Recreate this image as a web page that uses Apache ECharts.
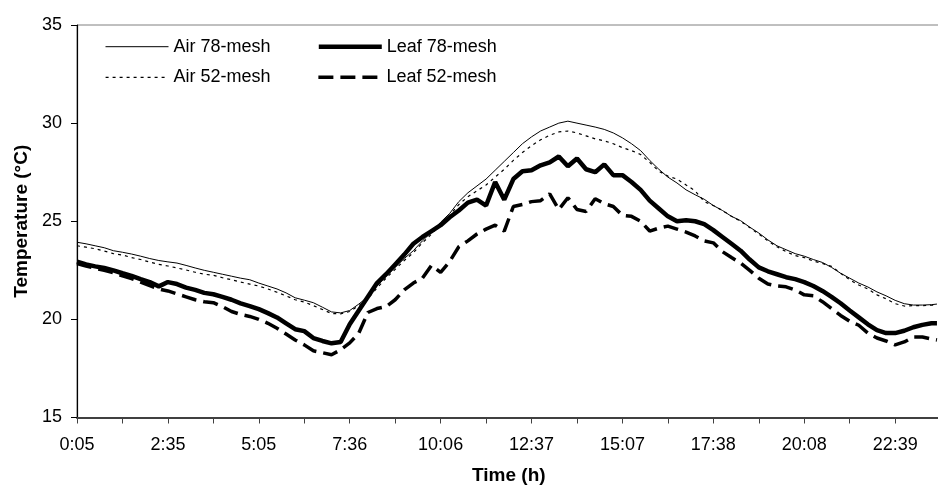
<!DOCTYPE html>
<html>
<head>
<meta charset="utf-8">
<script src="https://cdn.jsdelivr.net/npm/echarts@6/dist/echarts.min.js"></script>
<style>
html,body{margin:0;padding:0;background:#fff;}
#chart{width:938px;height:493px;}
</style>
</head>
<body>
<div id="chart"></div>
<script>
// Sample index along the time axis (one tick label every 150 units)
var timeIdx = [0,15,30,45,60,75,90,105,120,135,
  150,165,180,195,210,225,240,255,270,285,
  300,315,330,345,360,375,390,405,420,435,
  450,465,480,495,510,525,540,555,570,585,
  600,615,630,645,660,675,690,705,720,735,
  750,765,780,795,810,825,840,855,870,885,
  900,915,930,945,960,975,990,1005,1020,1035,
  1050,1065,1080,1095,1110,1125,1140,1155,1170,1185,
  1200,1215,1230,1245,1260,1275,1290,1305,1320,1335,
  1350,1365,1380,1395,1410,1419];

var tickLabels = ['0:05','2:35','5:05','7:36','10:06','12:37','15:07','17:38','20:08','22:39'];

var air78 = [23.93,23.85,23.75,23.65,23.5,23.42,23.33,23.22,23.1,23.0,
  22.93,22.87,22.75,22.62,22.5,22.4,22.3,22.2,22.1,22.02,
  21.85,21.7,21.55,21.35,21.1,20.98,20.85,20.62,20.38,20.33,
  20.45,20.78,21.15,21.7,22.2,22.65,23.1,23.5,24.0,24.45,
  24.95,25.4,26.0,26.45,26.8,27.15,27.6,28.05,28.5,28.95,
  29.3,29.6,29.8,30.0,30.1,30.0,29.9,29.8,29.68,29.5,
  29.25,28.95,28.6,28.1,27.65,27.25,26.95,26.6,26.35,26.12,
  25.8,25.55,25.25,25.03,24.7,24.4,24.05,23.75,23.55,23.35,
  23.22,23.05,22.9,22.65,22.35,22.1,21.85,21.65,21.4,21.2,
  20.97,20.8,20.73,20.73,20.75,20.78];

var air52 = [23.75,23.68,23.6,23.48,23.35,23.28,23.15,23.05,22.92,22.8,
  22.72,22.62,22.52,22.4,22.3,22.25,22.12,22.02,21.9,21.8,
  21.7,21.55,21.38,21.2,21.0,20.88,20.7,20.5,20.3,20.28,
  20.4,20.7,21.05,21.6,22.1,22.55,23.0,23.4,23.9,24.35,
  24.85,25.3,25.85,26.25,26.55,26.85,27.25,27.65,28.1,28.5,
  28.85,29.15,29.38,29.55,29.6,29.5,29.35,29.2,29.1,28.95,
  28.75,28.6,28.4,28.0,27.55,27.3,27.15,26.85,26.55,26.0,
  25.8,25.55,25.25,25.0,24.68,24.35,24.0,23.7,23.45,23.25,
  23.15,22.97,22.85,22.7,22.35,22.02,21.75,21.55,21.25,21.05,
  20.8,20.68,20.7,20.7,20.72,20.75];

var leaf78 = [22.94,22.8,22.7,22.62,22.5,22.35,22.22,22.05,21.9,21.68,
  21.9,21.8,21.62,21.5,21.35,21.28,21.15,21.0,20.82,20.68,
  20.52,20.32,20.1,19.8,19.5,19.4,19.05,18.9,18.78,18.85,
  19.75,20.45,21.15,21.85,22.3,22.8,23.3,23.85,24.2,24.5,
  24.8,25.2,25.55,25.95,26.1,25.8,27.0,26.1,27.15,27.55,
  27.6,27.85,28.0,28.3,27.8,28.2,27.65,27.5,27.9,27.35,
  27.35,27.0,26.6,26.05,25.65,25.25,25.0,25.05,25.0,24.85,
  24.55,24.2,23.85,23.5,23.05,22.65,22.45,22.3,22.15,22.05,
  21.9,21.7,21.45,21.15,20.82,20.45,20.1,19.75,19.45,19.3,
  19.3,19.42,19.6,19.72,19.8,19.8];

var leaf52 = [22.85,22.72,22.6,22.5,22.38,22.22,22.08,21.9,21.72,21.55,
  21.45,21.3,21.15,21.0,20.9,20.85,20.65,20.4,20.25,20.15,
  20.0,19.8,19.55,19.25,18.95,18.7,18.4,18.3,18.2,18.45,
  18.8,19.3,20.35,20.55,20.65,21.0,21.5,21.85,22.1,22.75,
  22.4,22.95,23.7,24.0,24.35,24.6,24.8,24.5,25.75,25.85,
  26.0,26.05,26.4,25.6,26.2,25.6,25.5,26.15,25.9,25.75,
  25.3,25.25,25.0,24.5,24.65,24.75,24.6,24.45,24.25,24.0,
  23.9,23.45,23.15,22.87,22.5,22.1,21.8,21.7,21.66,21.5,
  21.25,21.2,20.9,20.55,20.2,19.9,19.7,19.3,19.05,18.9,
  18.7,18.85,19.1,19.1,19.0,18.95];

function pairs(vals){ return timeIdx.map(function(t,i){ return [t, vals[i]]; }); }

var FONT = 'Liberation Sans, Arial, sans-serif';
var styles = {
  'Air 78-mesh':  {color: '#000', width: 1, type: 'solid'},
  'Air 52-mesh':  {color: '#000', width: 1.2, type: [3, 4]},
  'Leaf 78-mesh': {color: '#000', width: 4.5, type: 'solid'},
  'Leaf 52-mesh': {color: '#000', width: 3.5, type: [15, 7]}
};
function legItem(n){ return {name: n, lineStyle: Object.assign({}, styles[n])}; }

var chart = echarts.init(document.getElementById('chart'), null, {renderer:'canvas'});
var legendCommon = {
  orient: 'horizontal', left: 105, padding: 0, itemWidth: 63, itemHeight: 18,
  itemGap: 46, textStyle: {fontFamily: FONT, fontSize: 18, color: '#000'},
  itemStyle: {opacity: 0, color: 'transparent', borderWidth: 0},
  selectedMode: false
};
chart.setOption({
  animation: false,
  backgroundColor: '#fff',
  grid: {left: 77, top: 25, width: 863.6, height: 392.5, show: true,
    borderColor: '#808080', borderWidth: 1, containLabel: false, outerBoundsMode: 'none'},
  legend: [
    Object.assign({}, legendCommon, {top: 37.7, data: [legItem('Air 78-mesh'), legItem('Leaf 78-mesh')]}),
    Object.assign({}, legendCommon, {top: 68.3, data: [legItem('Air 52-mesh'), legItem('Leaf 52-mesh')]})
  ],
  xAxis: {
    type: 'value', min: 0, max: 1425, interval: 75,
    axisLine: {show: true, lineStyle: {color: '#404040', width: 2}},
    axisTick: {show: true, length: 6, lineStyle: {color: '#404040', width: 1}},
    axisLabel: {margin: 19, fontFamily: FONT, fontSize: 18, color: '#000',
      formatter: function(v){ return (v % 150 === 0 && tickLabels[v/150] !== undefined) ? tickLabels[v/150] : ''; }},
    splitLine: {show: false},
    name: 'Time (h)', nameLocation: 'middle', nameGap: 49,
    nameTextStyle: {fontFamily: FONT, fontSize: 19, fontWeight: 'bold', color: '#000'}
  },
  yAxis: {
    type: 'value', min: 15, max: 35, interval: 5,
    axisLine: {show: true, lineStyle: {color: '#000', width: 1.2}},
    axisTick: {show: true, length: 6, lineStyle: {color: '#000', width: 1}},
    axisLabel: {margin: 15, fontFamily: FONT, fontSize: 18, color: '#000'},
    splitLine: {show: false},
    name: 'Temperature (°C)', nameLocation: 'middle', nameGap: 43,
    nameTextStyle: {fontFamily: FONT, fontSize: 19, fontWeight: 'bold', color: '#000'}
  },
  series: ['Air 78-mesh','Air 52-mesh','Leaf 78-mesh','Leaf 52-mesh'].map(function(n, i){
    var data = [air78, air52, leaf78, leaf52][i];
    return {name: n, type: 'line', symbol: 'none', data: pairs(data),
      lineStyle: Object.assign({}, styles[n]), itemStyle: {color: '#000'}};
  })
});
</script>
</body>
</html>
